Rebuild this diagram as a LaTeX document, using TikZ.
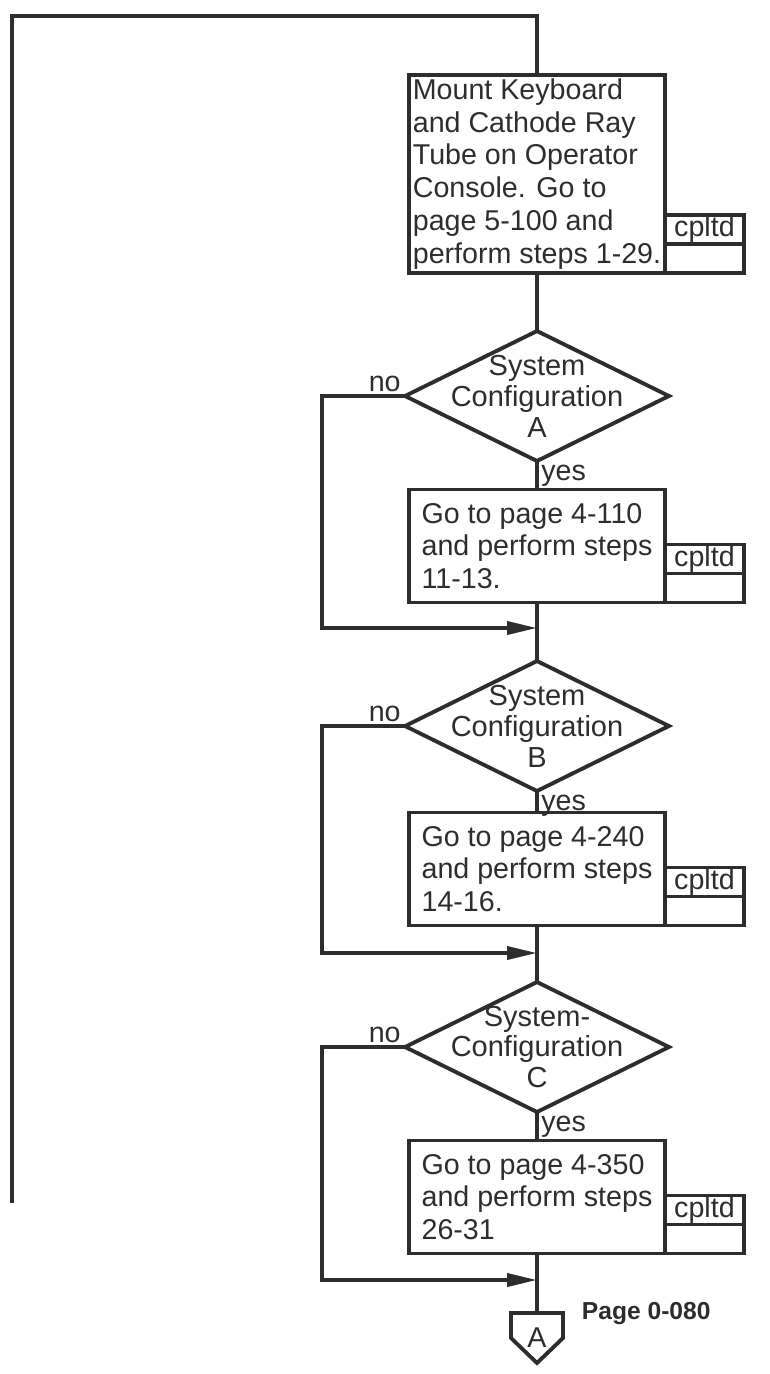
\documentclass[tikz,border=0pt]{standalone}
\usepackage{fontspec}
\setmainfont{Liberation Sans}
\usetikzlibrary{positioning,arrows.meta,shapes.geometric}
\definecolor{ink}{RGB}{45,45,45}

\begin{document}
\begin{tikzpicture}[x=0.02cm,y=-0.02cm,color=ink,line width=2.2pt,
    font=\fontsize{16.3}{18.7}\selectfont,
    every node/.style={inner sep=0pt,outer sep=0pt},
    proc/.style={draw,rectangle,minimum width=5.12cm,minimum height=2.26cm,align=left},
    cpl/.style={draw,rectangle,minimum width=1.58cm,minimum height=0.58cm},
    decide/.style={draw,diamond,minimum width=5.28cm,minimum height=2.6cm},
    dtext/.style={align=center,font=\fontsize{16.5}{17.6}\selectfont},
    lbl/.style={inner sep=2.5pt},
    flow/.style={-{Triangle[length=0.6cm,width=0.26cm]}}]
  \useasboundingbox (0,0) rectangle (769,1374);

  % mount step
  \node[proc,minimum height=3.96cm] (b1) at (537,174) {Mount Keyboard\\and Cathode Ray\\Tube on Operator\\Console. Go to\\page 5-100 and\\perform steps 1-29.};
  \node[cpl,anchor=south west] (b1x) at (b1.south east) {};
  \node[cpl,above=0pt of b1x] (b1c) {cpltd};

  % configuration A
  \node[decide] (dA) at (537,396) {};
  \node[dtext] (tA) at (dA) {System\\Configuration\\A};
  \node[proc] (b2) at (537,546) {Go to page 4-110\\and perform steps\\11-13.};
  \node[cpl,anchor=south west] (b2x) at (b2.south east) {};
  \node[cpl,above=0pt of b2x] (b2c) {cpltd};
  \coordinate (jA) at (537,628);

  % configuration B
  \node[decide] (dB) at (537,726) {};
  \node[dtext] (tB) at (dB) {System\\Configuration\\B};
  \node[proc] (b3) at (537,869) {Go to page 4-240\\and perform steps\\14-16.};
  \node[cpl,anchor=south west] (b3x) at (b3.south east) {};
  \node[cpl,above=0pt of b3x] (b3c) {cpltd};
  \coordinate (jB) at (537,953);

  % configuration C
  \node[decide] (dC) at (537,1047) {};
  \node[dtext] (tC) at (dC) {System-\\Configuration\\C};
  \node[proc] (b4) at (537,1197) {Go to page 4-350\\and perform steps\\26-31};
  \node[cpl,anchor=south west] (b4x) at (b4.south east) {};
  \node[cpl,above=0pt of b4x] (b4c) {cpltd};
  \coordinate (jC) at (537,1280);

  % off-page connector
  \node[minimum width=1.04cm,minimum height=1cm] (conA) at (537,1338) {A};
  \draw (conA.north west) -- (conA.west) -- (conA.south) -- (conA.east) -- (conA.north east) -- cycle;
  \node[right=0.38cm of conA.north east,font=\bfseries\fontsize{14}{16}\selectfont] (pg) {Page 0-080};

  % yes / no
  \foreach \d in {dA,dB,dC}{
    \node[lbl,anchor=south east] (no-\d) at (\d.west) {no};
    \node[lbl,anchor=north west] (yes-\d) at (\d.south) {yes};
  }

  % main line
  \coordinate (entry) at (12,1203);
  \coordinate (corner) at (12,16);
  \draw (entry) -- (corner) -| (b1.north);
  \draw (b1) -- (dA);
  \draw (dA) -- (b2);
  \draw (b2) -- (dB);
  \draw (dB) -- (b3);
  \draw (b3) -- (dC);
  \draw (dC) -- (b4);
  \draw (b4) -- (conA);

  % bypass on no
  \draw[flow] (dA.west) -- ++(-83,0) |- (jA);
  \draw[flow] (dB.west) -- ++(-83,0) |- (jB);
  \draw[flow] (dC.west) -- ++(-83,0) |- (jC);
\end{tikzpicture}
\end{document}
